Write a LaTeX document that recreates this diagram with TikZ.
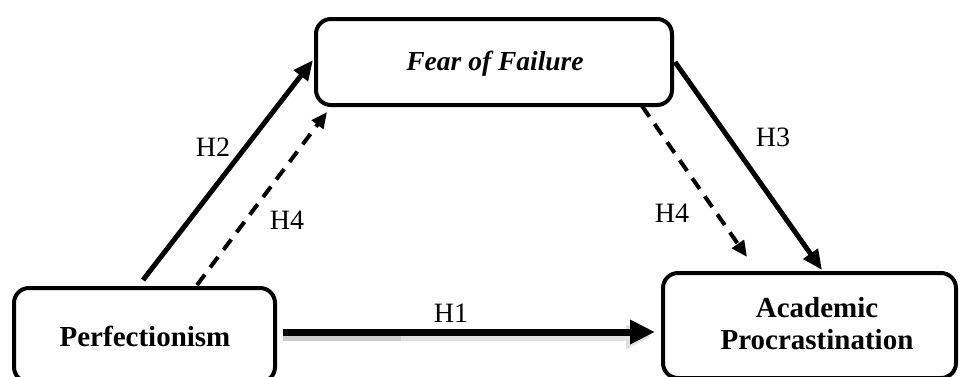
\documentclass[tikz,border=0pt]{standalone}
\usepackage{fontspec}
\setmainfont{Liberation Serif}
\usetikzlibrary{arrows.meta,calc}
\begin{document}
\begin{tikzpicture}[x=1pt,y=-1pt,
  boxnode/.style={draw=black,line width=4pt,rounded corners=15pt,inner sep=0pt,outer sep=0pt},
  boxtext/.style={font=\fontsize{29}{32}\selectfont\bfseries,align=center,inner sep=0pt},
  hlabel/.style={font=\fontsize{28}{30}\selectfont,inner sep=0pt},
  solidarrow/.style={line width=5pt,-{Triangle[length=20pt,width=17pt]}},
  dasharrow/.style={line width=4pt,dash pattern=on 13pt off 9pt,-{Triangle[length=16pt,width=14pt]}},
]
\useasboundingbox (0,0) rectangle (960,376);
% boxes
\node[boxnode,minimum width=261pt,minimum height=94pt] (perf) at (144.5,335) {};
\node[boxtext] (perftext) at (145,336) {Perfectionism};
\node[boxnode,minimum width=356pt,minimum height=86pt] (fear) at (494,62) {};
\node[boxtext,font=\fontsize{27.5}{32}\selectfont\bfseries\itshape] (feartext) at (495,64) {Fear of Failure};
\node[boxnode,minimum width=293pt,minimum height=105pt] (acad) at (809.5,325.5) {};
\node[boxtext] (acadtext) at (817,324) {Academic\\Procrastination};
% H1 with shadow
\coordinate (h1s) at ([xshift=8pt,yshift=3pt]perf.east);
\coordinate (h1e) at ([xshift=-8pt,yshift=-6.5pt]acad.west);
\draw[line width=7pt,gray!40] ([yshift=-5pt]h1s) -- ([xshift=120pt,yshift=-5pt]h1s);
\draw[line width=7pt,gray!25,-{Triangle[length=25pt,width=23pt]}] ([xshift=118pt,yshift=-5pt]h1s) -- ([xshift=-4pt,yshift=-5pt]h1e);
\draw[line width=7pt,-{Triangle[length=25pt,width=23pt]}] (h1s) -- (h1e);
% H2
\draw[solidarrow] ([xshift=129pt,yshift=8pt]perf.north west) -- ([xshift=-3pt,yshift=2pt]fear.west);
% H4 left
\draw[dasharrow] ([xshift=183pt,yshift=3pt]perf.north west) -- ([xshift=11pt,yshift=-7pt]fear.south west);
% H3
\draw[solidarrow] ([xshift=3pt]fear.east) -- ([xshift=159pt,yshift=3pt]acad.north west);
% H4 right
\draw[dasharrow] ([xshift=-30pt,yshift=-1pt]fear.south east) -- ([xshift=84pt,yshift=16pt]acad.north west);
% labels
\node[hlabel] (lh1) at (451,313) {H1};
\node[hlabel] (lh2) at (213,147) {H2};
\node[hlabel] (lh4a) at (287,220) {H4};
\node[hlabel] (lh3) at (773,137) {H3};
\node[hlabel] (lh4b) at (672,213) {H4};
\end{tikzpicture}
\end{document}
